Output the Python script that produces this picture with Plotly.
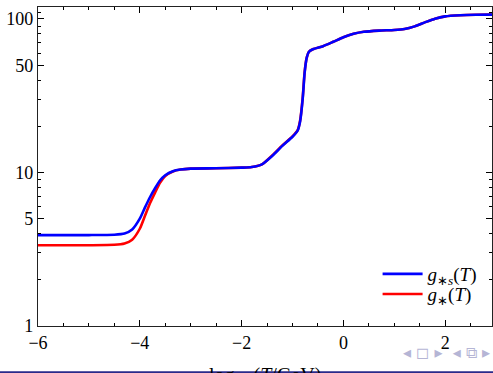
import plotly.graph_objects as go

# log10(T/GeV)
x_vals = [-6.0, -5.0, -4.5, -4.3, -4.15, -4.0, -3.9, -3.8, -3.7, -3.6, -3.5, -3.35, -3.2, -3.0,
          -2.5, -2.0, -1.8, -1.6, -1.4, -1.2, -1.0, -0.9, -0.85, -0.8, -0.76, -0.72, -0.68,
          -0.6, -0.4, -0.2, 0.0, 0.2, 0.4, 0.7, 1.0, 1.2, 1.4, 1.6, 1.8, 2.0, 2.3, 2.6, 3.0]
g_s = [3.91, 3.91, 3.93, 4.0, 4.25, 5.0, 5.9, 6.9, 7.9, 8.9, 9.6, 10.2, 10.45, 10.6,
       10.65, 10.75, 10.85, 11.3, 12.8, 14.9, 17.1, 18.7, 21.5, 30.0, 45.0, 56.0, 61.0,
       63.5, 66.5, 71.0, 76.0, 80.0, 82.5, 84.0, 84.8, 86.0, 89.5, 95.0, 100.5, 104.0, 105.8, 106.5, 106.75]
g_e = [3.36, 3.36, 3.38, 3.45, 3.65, 4.3, 5.2, 6.3, 7.4, 8.6, 9.5, 10.15, 10.45, 10.6,
       10.65, 10.75, 10.85, 11.3, 12.9, 15.0, 17.2, 18.8, 21.8, 30.5, 45.5, 56.0, 61.0,
       63.5, 66.5, 71.0, 76.0, 80.0, 82.5, 84.0, 84.8, 86.0, 89.5, 95.0, 100.5, 104.0, 105.8, 106.5, 106.75]

y_ticks = [1, 5, 10, 50, 100]
y_minor = [2, 3, 4, 6, 7, 8, 9, 20, 30, 40, 60, 70, 80, 90, 110, 120]
x_ticks = [-6, -4, -2, 0, 2]

serif = "Liberation Serif"

fig = go.Figure()
fig.add_trace(go.Scatter(x=x_vals, y=g_e, mode="lines", line=dict(color="#ff0000", width=2.6, shape="spline", smoothing=0.6),
                         name="<i>g</i><sub>∗</sub>(<i>T</i>)", legend="legend2"))
fig.add_trace(go.Scatter(x=x_vals, y=g_s, mode="lines", line=dict(color="#0000ff", width=2.6, shape="spline", smoothing=0.6),
                         name="<i>g</i><sub>∗<i>s</i></sub>(<i>T</i>)", legend="legend"))

leg_common = dict(xanchor="left", yanchor="middle", bgcolor="rgba(0,0,0,0)",
                  font=dict(family=serif, size=19), itemwidth=40)

fig.update_layout(
    width=493, height=373,
    margin=dict(l=38, r=1, t=7, b=47, autoexpand=False),
    paper_bgcolor="white", plot_bgcolor="white",
    font=dict(family=serif, size=17, color="black"),
    showlegend=True,
    legend=dict(x=0.748, y=0.163, **leg_common),
    legend2=dict(x=0.748, y=0.100, **leg_common),
    xaxis=dict(range=[-6, 2.92], tickvals=x_ticks, ticks="inside", ticklen=6, automargin=False,
               tickcolor="black", showline=True, linecolor="#222", linewidth=1.3, mirror="allticks",
               showgrid=False, zeroline=False,
               minor=dict(ticks="inside", ticklen=3, tickcolor="black", dtick=0.5, showgrid=False),
               tickfont=dict(family=serif, size=18)),
    yaxis=dict(type="log", range=[0, 2.078], tickvals=y_ticks, ticktext=[str(v) for v in y_ticks],
               ticks="inside", ticklen=6, tickcolor="black", showline=True, linecolor="#222", linewidth=1.3,
               mirror="allticks", showgrid=False, zeroline=False, automargin=False,
               minor=dict(ticks="inside", ticklen=3, tickcolor="black", tickvals=y_minor, showgrid=False),
               tickfont=dict(family=serif, size=18)),
)

# cut-off axis title
fig.add_annotation(text="log<sub>10</sub> (<i>T</i>/GeV)", xref="paper", yref="paper", x=0.501, y=-0.112,
                   yanchor="top", showarrow=False, font=dict(family=serif, size=20))
# beamer navigation symbols
fig.add_annotation(text="◂ ◻ ▸  ◂ ⧉ ▸", xref="paper", yref="paper", x=1.0, y=-0.082, xanchor="right",
                   yanchor="middle", showarrow=False, font=dict(family="DejaVu Sans", size=16, color="#b5b5d5"))
# beamer footer bar
fig.add_shape(type="rect", xref="paper", yref="paper", x0=-0.1, x1=1.1, y0=-0.142, y1=-0.155,
              fillcolor="#2a2a8a", line=dict(width=0))

fig.write_html("out.html", config={"displayModeBar": False},
               post_script="document.body.style.margin='0';document.body.style.overflow='hidden';")
